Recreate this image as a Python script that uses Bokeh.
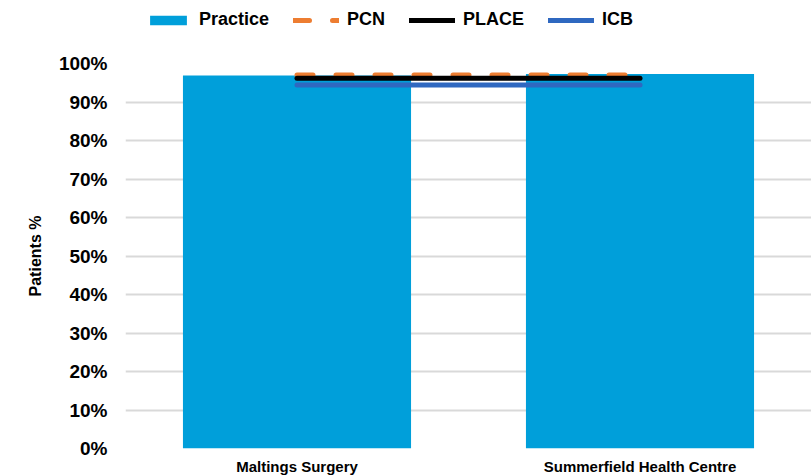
from bokeh.plotting import figure
from bokeh.layouts import column
from bokeh.models import (FactorRange, Range1d, FixedTicker, NumeralTickFormatter,
                          Legend, LegendItem, ColumnDataSource)
from bokeh.embed import file_html
from bokeh.resources import INLINE

# Share of patients by practice, with PCN / PLACE / ICB reference levels
practices = ["Maltings Surgery", "Summerfield Health Centre"]
practice_pct = [0.969, 0.973]
pcn_pct = [0.970, 0.970]
place_pct = [0.962, 0.962]
icb_pct = [0.944, 0.944]
y_ticks = [i / 10 for i in range(11)]

FONT = "Liberation Sans"
BAR = dict(fill_color="#009FDA", line_color=None)
ICB = dict(line_color="#2F68C0", line_width=5, line_cap="round")
PCN = dict(line_color="#ED7D31", line_width=5, line_cap="round", line_dash="16 23")
PLACE = dict(line_color="black", line_width=5, line_cap="round")

src = ColumnDataSource(dict(x=practices, practice=practice_pct, pcn=pcn_pct,
                            place=place_pct, icb=icb_pct))

# ---- main chart ----
p = figure(x_range=FactorRange(*practices), y_range=Range1d(0, 1),
           frame_width=686, frame_height=385,
           min_border_left=125, min_border_right=0, min_border_top=18, min_border_bottom=0,
           output_backend="svg", toolbar_location=None)
p.outline_line_color = None

p.vbar(x="x", top="practice", width=0.665, source=src, **BAR)
p.line(x="x", y="icb", source=src, **ICB)
p.line(x="x", y="pcn", source=src, **PCN)
p.line(x="x", y="place", source=src, **PLACE)

p.yaxis.ticker = FixedTicker(ticks=y_ticks)
p.yaxis.formatter = NumeralTickFormatter(format="0%")
p.yaxis.axis_label = "Patients %"
p.yaxis.axis_label_text_font = FONT
p.yaxis.axis_label_text_font_style = "bold"
p.yaxis.axis_label_text_font_size = "16px"
p.yaxis.axis_label_text_color = "black"
p.yaxis.axis_label_standoff = 12
p.yaxis.major_label_text_font = FONT
p.yaxis.major_label_text_font_style = "bold"
p.yaxis.major_label_text_font_size = "19px"
p.yaxis.major_label_text_color = "black"
p.yaxis.major_label_standoff = 18

p.xaxis.major_label_text_font = FONT
p.xaxis.major_label_text_font_style = "bold"
p.xaxis.major_label_text_font_size = "15px"
p.xaxis.major_label_text_color = "black"
p.xaxis.major_label_standoff = 9

for ax in (p.xaxis, p.yaxis):
    ax.axis_line_color = None
    ax.major_tick_line_color = None
    ax.minor_tick_line_color = None
    ax.major_tick_out = 0
    ax.major_tick_in = 0

p.xgrid.grid_line_color = None
p.ygrid.grid_line_color = "#D9D9D9"
p.ygrid.grid_line_width = 2

# ---- legend strip above the chart ----
# key renderers share the series data and styles; their y range sits above
# the data so only the legend entries show in this strip
key = figure(x_range=FactorRange(*practices), y_range=Range1d(5, 6),
             frame_width=811, frame_height=45, min_border=0,
             x_axis_type=None, y_axis_type=None,
             output_backend="svg", toolbar_location=None)
key.outline_line_color = None
key.grid.visible = False
k_bar = key.vbar(x="x", top="practice", width=0.665, source=src, **BAR)
k_pcn = key.line(x="x", y="pcn", source=src, **PCN)
k_place = key.line(x="x", y="place", source=src, **PLACE)
k_icb = key.line(x="x", y="icb", source=src, **ICB)

legend = Legend(items=[LegendItem(label="Practice", renderers=[k_bar]),
                       LegendItem(label="PCN", renderers=[k_pcn]),
                       LegendItem(label="PLACE", renderers=[k_place]),
                       LegendItem(label="ICB", renderers=[k_icb])],
                orientation="horizontal", location=(145, 15),
                glyph_width=46, glyph_height=12, label_standoff=8, spacing=24,
                padding=0, margin=0, border_line_color=None,
                background_fill_alpha=0,
                label_text_font=FONT, label_text_font_style="bold",
                label_text_font_size="18px", label_text_color="black")
key.add_layout(legend, "center")

layout = column(key, p, spacing=0)
open("out.html", "w").write(file_html(layout, INLINE))
